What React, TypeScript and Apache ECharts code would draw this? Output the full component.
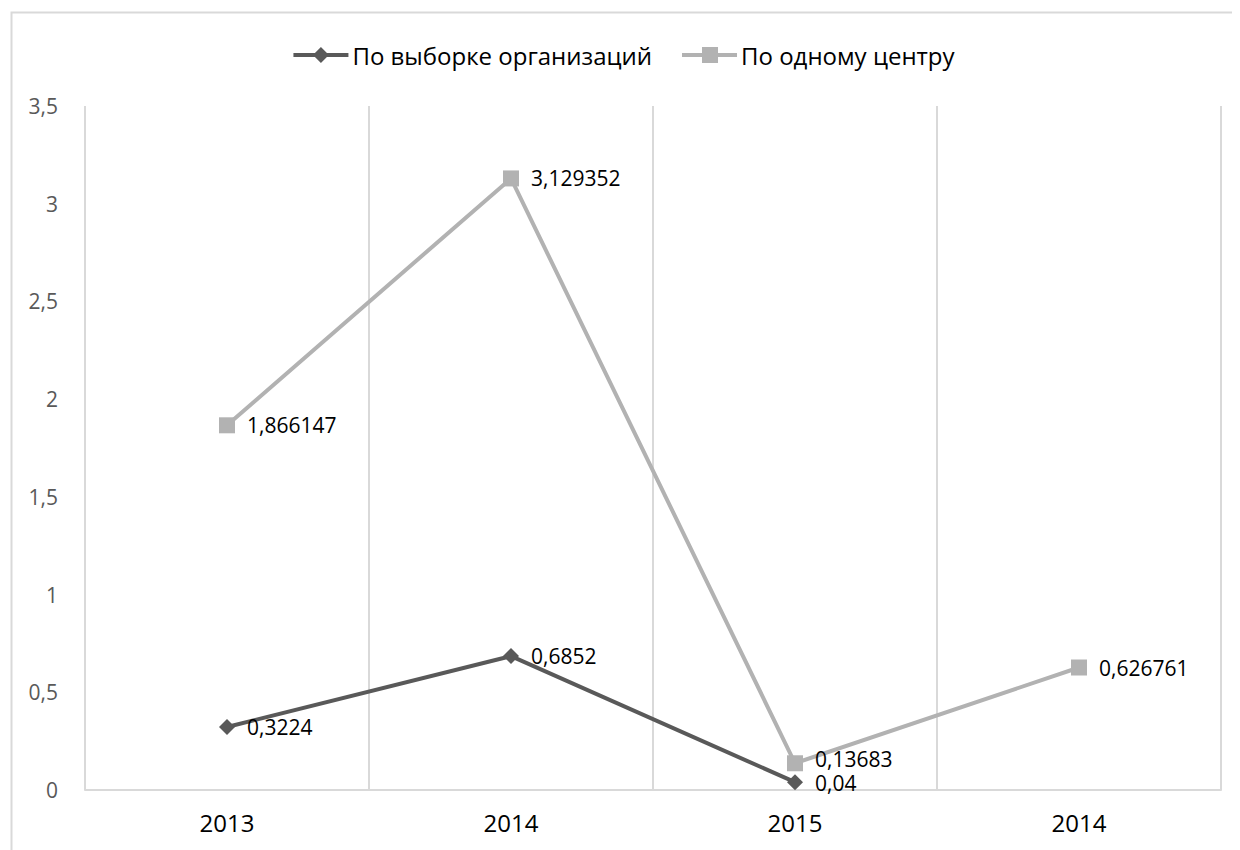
import React, { useEffect, useRef } from "react";
import * as echarts from "echarts";

const categories = ["2013", "2014", "2015", "2014"];
const seriesNames = ["По выборке организаций", "По одному центру"];
const sampleValues: (number | string)[] = [0.3224, 0.6852, 0.04, "-"];
const centerValues: number[] = [1.866147, 3.129352, 0.13683, 0.626761];
const yTicks = { min: 0, max: 3.5, interval: 0.5 };

const FONT = "'Open Sans', 'Noto Sans', sans-serif";
const toComma = (v: number) => String(v).replace(".", ",");

// legend icons: thick line with marker, drawn in a 55 x 16 box
const ICON_DIAMOND = "path://M0,6L55,6L55,10L0,10Z M27.5,0L35.5,8L27.5,16L19.5,8Z";
const ICON_SQUARE = "path://M0,6L55,6L55,10L0,10Z M20,0L36,0L36,16L20,16Z";

export default function App() {
  const ref = useRef<HTMLDivElement>(null);
  useEffect(() => {
    if (!ref.current) return;
    const chart = echarts.init(ref.current, undefined, { renderer: "svg" });
    const labelCfg = {
      show: true,
      position: "right" as const,
      distance: 12,
      color: "#000",
      fontSize: 21,
      lineHeight: 17,
      fontFamily: FONT,
      formatter: (p: any) => toComma(Array.isArray(p.value) ? p.value[1] : p.value),
    };
    const centerData = centerValues.map((v, i) =>
      i === 2 ? { value: v, label: { offset: [0, -4] } } : v
    );
    const sampleData = sampleValues.map((v, i) =>
      i === 2 ? { value: v, label: { offset: [0, 1] } } : v
    );
    chart.setOption({
      animation: false,
      backgroundColor: "#fff",
      textStyle: { fontFamily: FONT },
      graphic: [
        {
          type: "rect",
          left: 1,
          top: 2,
          shape: { x: 0, y: 0, width: 3000, height: 3000 },
          style: { fill: "none", stroke: "#d9d9d9", lineWidth: 2 },
          silent: true,
        },
      ],
      legend: {
        top: 30,
        left: "center",
        itemWidth: 55,
        itemHeight: 16,
        itemGap: 30,
        textStyle: { fontSize: 24, color: "#000", fontFamily: FONT, padding: [0, 0, 0, -1] },
        data: [
          { name: seriesNames[0], icon: ICON_DIAMOND },
          { name: seriesNames[1], icon: ICON_SQUARE },
        ],
      },
      grid: { left: 77, right: 19, top: 98, bottom: 60, containLabel: false },
      xAxis: {
        type: "category",
        data: categories,
        boundaryGap: true,
        axisLine: { lineStyle: { color: "#d9d9d9", width: 2 } },
        axisTick: { show: false },
        axisLabel: { color: "#000", fontSize: 24, fontFamily: FONT, margin: 20 },
        splitLine: { show: true, lineStyle: { color: "#d9d9d9", width: 2 } },
      },
      yAxis: {
        type: "value",
        min: yTicks.min,
        max: yTicks.max,
        interval: yTicks.interval,
        axisLine: { show: false },
        axisTick: { show: false },
        splitLine: { show: false },
        axisLabel: {
          color: "#595959",
          fontSize: 21,
          fontFamily: FONT,
          margin: 27,
          formatter: (v: number) => toComma(v),
        },
      },
      series: [
        {
          name: seriesNames[0],
          type: "line",
          data: sampleData,
          symbol: "diamond",
          symbolSize: 16,
          color: "#595959",
          lineStyle: { color: "#595959", width: 4 },
          itemStyle: { color: "#595959" },
          label: labelCfg,
          z: 3,
        },
        {
          name: seriesNames[1],
          type: "line",
          data: centerData,
          symbol: "rect",
          symbolSize: 16,
          color: "#b2b2b2",
          lineStyle: { color: "#b2b2b2", width: 4 },
          itemStyle: { color: "#b2b2b2" },
          label: labelCfg,
          z: 2,
        },
      ],
    });
    return () => chart.dispose();
  }, []);
  return <div ref={ref} style={{ width: 1232, height: 842 }} />;
}
